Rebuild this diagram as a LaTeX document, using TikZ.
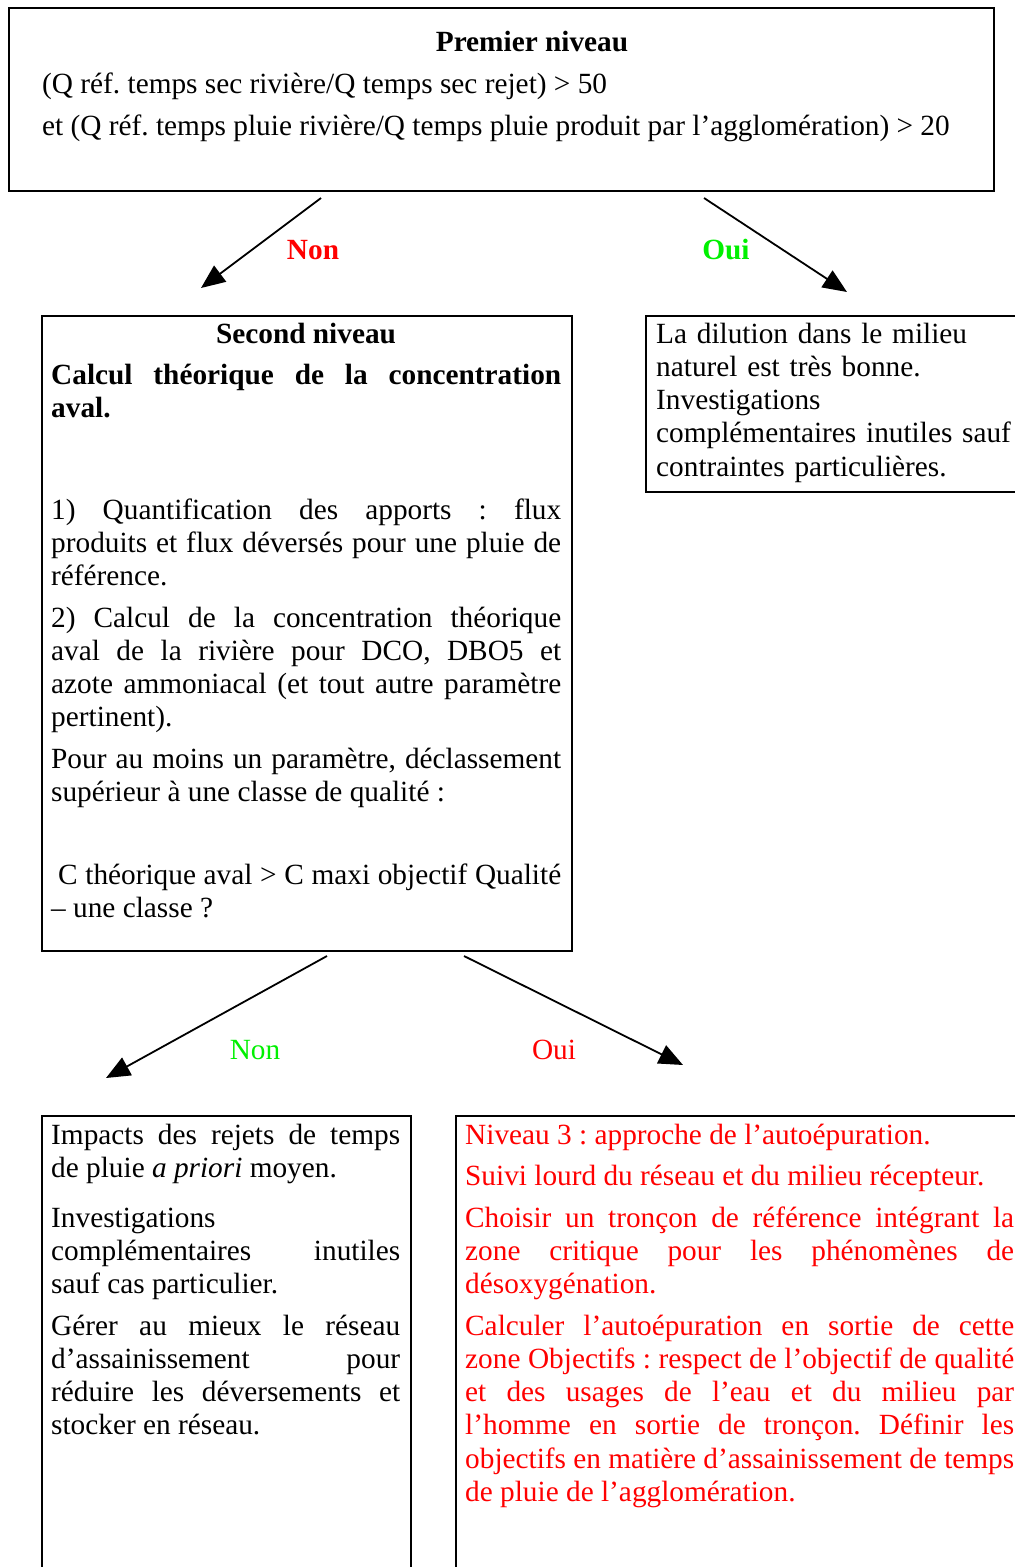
\documentclass[tikz,border=0pt]{standalone}
\usepackage{fontspec}
\setmainfont{Liberation Serif}
\usetikzlibrary{arrows.meta}

% body text: 12pt Times-like, scaled to the drawing units
\newcommand\bodyfont{\fontsize{29.3}{33.3}\selectfont}
\hyphenpenalty=10000
\exhyphenpenalty=10000
\tolerance=9999
\hbadness=10000
\frenchspacing

\definecolor{ok}{RGB}{0,240,0}
\definecolor{ko}{RGB}{255,0,0}

\tikzset{
  box/.style={draw, line width=1.8pt, inner sep=0pt, anchor=north west},
  para/.style={anchor=base west, inner sep=0pt, text width=#1, align=justify, font=\bodyfont},
  plain/.style={anchor=base west, inner sep=0pt, text width=#1, align=left, font=\bodyfont},
  flow/.style={line width=1.8pt, -{Triangle[length=24pt,width=20pt]}},
  tag/.style={font=\bodyfont, inner sep=0pt},
}

\begin{document}
\begin{tikzpicture}[x=1pt, y=-1pt]
\useasboundingbox (0,0) rectangle (1015,1567);
\clip (0,0) rectangle (1015,1567);

% frames
\node[box, minimum width=985pt, minimum height=183pt] (lvl1) at (8,7) {};
\node[box, minimum width=530pt, minimum height=635pt] (lvl2) at (41,315) {};
\node[box, minimum width=400pt, minimum height=176pt] (good) at (645,315) {};
\node[box, minimum width=369pt, minimum height=480pt] (mean) at (41,1115) {};
\node[box, minimum width=600pt, minimum height=480pt] (lvl3) at (455,1115) {};

% first level
\node[tag, font=\bodyfont\bfseries, anchor=base] (h1) at (532,51) {Premier niveau};
\node[tag, anchor=base west] (c1) at (42,93) {(Q réf. temps sec rivière/Q temps sec rejet) > 50};
\node[tag, anchor=base west] (c2) at (42,135) {et (Q réf. temps pluie rivière/Q temps pluie produit par l’agglomération) > 20};

% second level
\node[tag, font=\bodyfont\bfseries, anchor=base] (h2) at (306,343) {Second niveau};
\node[para=510pt, font=\bodyfont\bfseries] (s1) at (51,384)
  {Calcul théorique de la concentration\linebreak aval.};
\node[para=510pt] (s2) at (51,519)
  {1) Quantification des apports : flux\linebreak produits et flux déversés pour une pluie de\linebreak référence.};
\node[para=510pt] (s3) at (51,627)
  {2) Calcul de la concentration théorique\linebreak aval de la rivière pour DCO, DBO5 et\linebreak azote ammoniacal (et tout autre paramètre\linebreak pertinent).};
\node[para=510pt] (s4) at (51,768)
  {Pour au moins un paramètre, déclassement\linebreak supérieur à une classe de qualité :};
\node[para=510pt] (s5) at (51,884)
  {\hspace*{7pt}C théorique aval > C maxi objectif Qualité\linebreak – une classe ?};

% dilution is enough
\node[plain=400pt] (g1) at (656,343)
  {La dilution dans le milieu\\naturel est très bonne.\\Investigations\\complémentaires inutiles sauf\\contraintes particulières.};

% moderate impact
\node[para=349pt] (m1) at (51,1144)
  {Impacts des rejets de temps\linebreak de pluie \textit{a priori} moyen.};
\node[para=349pt] (m2) at (51,1227)
  {Investigations\linebreak complémentaires inutiles\linebreak sauf cas particulier.};
\node[para=349pt] (m3) at (51,1335)
  {Gérer au mieux le réseau\linebreak d’assainissement pour\linebreak réduire les déversements et\linebreak stocker en réseau.};

% third level
\begin{scope}[text=ko]
\node[para=549pt] (t1) at (465,1144) {Niveau 3 : approche de l’autoépuration.};
\node[para=549pt] (t2) at (465,1185) {Suivi lourd du réseau et du milieu récepteur.};
\node[para=549pt] (t3) at (465,1227)
  {Choisir un tronçon de référence intégrant la\linebreak zone critique pour les phénomènes de\linebreak désoxygénation.};
\node[para=549pt] (t4) at (465,1335)
  {Calculer l’autoépuration en sortie de cette\linebreak zone Objectifs : respect de l’objectif de qualité\linebreak et des usages de l’eau et du milieu par\linebreak l’homme en sortie de tronçon. Définir les\linebreak objectifs en matière d’assainissement de temps\linebreak de pluie de l’agglomération.};
\end{scope}

% decision arrows
\coordinate (a1s) at (321,198);
\coordinate (a1e) at (201,288);
\coordinate (a2s) at (704,198);
\coordinate (a2e) at (847,292);
\coordinate (a3s) at (327,956);
\coordinate (a3e) at (106,1078);
\coordinate (a4s) at (464,956);
\coordinate (a4e) at (683,1065);
\draw[flow] (a1s) -- (a1e);
\draw[flow] (a2s) -- (a2e);
\draw[flow] (a3s) -- (a3e);
\draw[flow] (a4s) -- (a4e);

\node[tag, font=\bodyfont\bfseries, text=ko] (n1) at (313,250) {Non};
\node[tag, font=\bodyfont\bfseries, text=ok] (o1) at (726,250) {Oui};
\node[tag, text=ok] (n2) at (255,1050) {Non};
\node[tag, text=ko] (o2) at (554,1050) {Oui};
\end{tikzpicture}
\end{document}
